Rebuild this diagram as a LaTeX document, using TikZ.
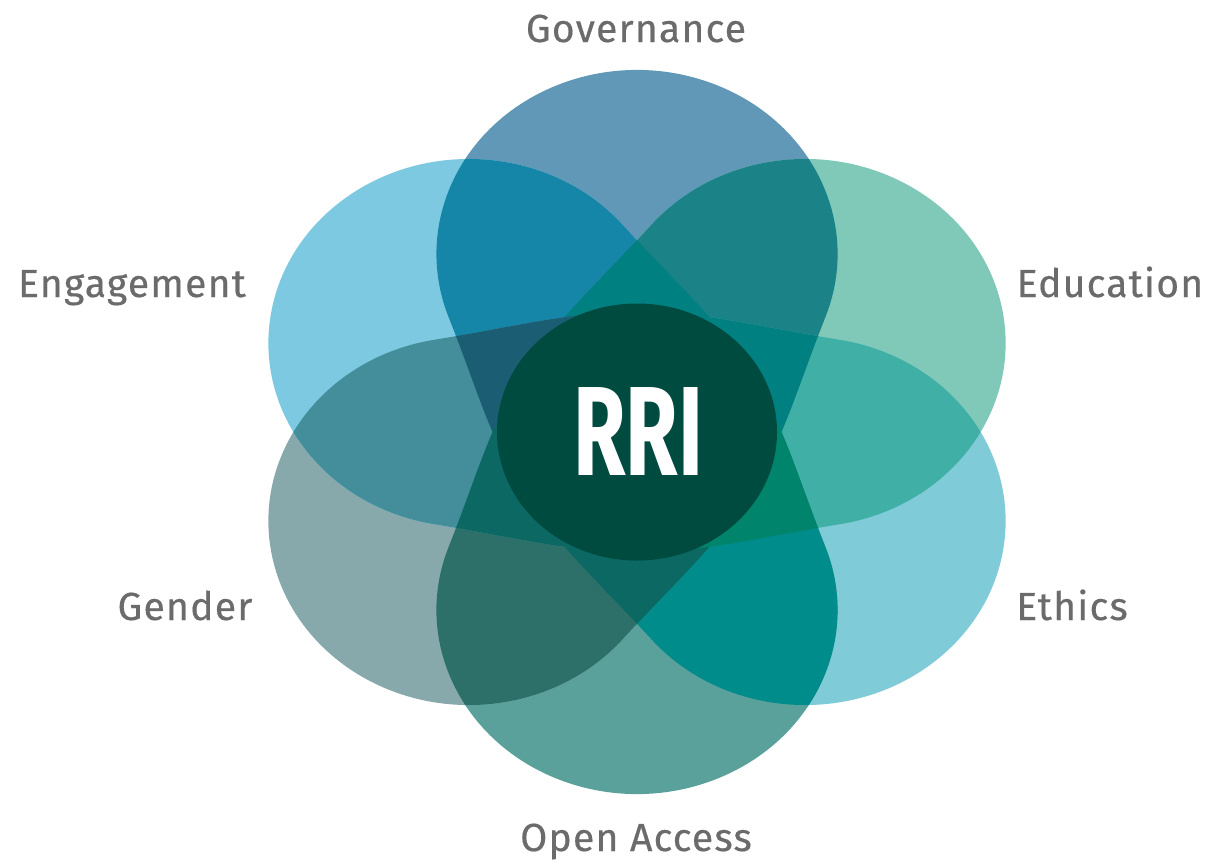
\documentclass[tikz,border=0pt]{standalone}
\usepackage{fontspec}
\setmainfont{Fira Sans}
\newfontfamily\lblfont[LetterSpace=3, FakeBold=0.4]{Fira Sans}
\definecolor{cGov}{HTML}{6198B8}
\definecolor{cEdu}{HTML}{80C9B9}
\definecolor{cEth}{HTML}{7FCBD8}
\definecolor{cOA}{HTML}{5BA19B}
\definecolor{cGen}{HTML}{88A9AC}
\definecolor{cEng}{HTML}{7DC9E1}
\definecolor{cGovEng}{HTML}{1585A8}
\definecolor{cGovEdu}{HTML}{1B8288}
\definecolor{cEduEth}{HTML}{40AFA5}
\definecolor{cEthOA}{HTML}{008C8A}
\definecolor{cOAGen}{HTML}{2D6F69}
\definecolor{cGenEng}{HTML}{438E9A}
\definecolor{cTopTri}{HTML}{008080}
\definecolor{cLeftTri}{HTML}{1B5E74}
\definecolor{cLowTri}{HTML}{0B6862}
\definecolor{cRightTri}{HTML}{00846C}
\definecolor{cRRI}{HTML}{004B40}
\definecolor{cLabel}{HTML}{6B6B6B}
\tikzset{
  petal/.style={shift={(637,-432)}, xscale=1.09, rotate=#1},
  lbl/.style={anchor=base, text=cLabel, inner sep=0pt, font=\lblfont\fontsize{22.3}{26}\selectfont}
}
\newcommand\petalpath{(0,-120) .. controls (120,-90) and (125,-16.5) .. (172.9,115.1) arc[start angle=-20, end angle=200, radius=184] .. controls (-125,-16.5) and (-120,-90) .. cycle}
\newcommand\petalpair[3]{\begin{scope}\clip[petal=#1]\petalpath;\fill[#3,petal=#2]\petalpath;\end{scope}}
\newcommand\petaltriple[4]{\begin{scope}\clip[petal=#1]\petalpath;\clip[petal=#2]\petalpath;\fill[#4,petal=#3]\petalpath;\end{scope}}
\begin{document}
\begin{tikzpicture}[x=0.02cm, y=0.02cm]
\useasboundingbox (0,0) rectangle (1209,-863);
\fill[white] (0,0) rectangle (1209,-863);
% base petals (Gov 0, Edu -60, Eth -120, OA 180, Gen 120, Eng 60)
\fill[cGov, petal=0]\petalpath;
\fill[cEdu, petal=-60]\petalpath;
\fill[cEth, petal=-120]\petalpath;
\fill[cOA, petal=180]\petalpath;
\fill[cGen, petal=120]\petalpath;
\fill[cEng, petal=60]\petalpath;
% adjacent overlaps
\petalpair{0}{60}{cGovEng}
\petalpair{0}{-60}{cGovEdu}
\petalpair{-60}{-120}{cEduEth}
\petalpair{-120}{180}{cEthOA}
\petalpair{180}{120}{cOAGen}
\petalpair{120}{60}{cGenEng}
% triple overlaps
\petaltriple{0}{60}{-60}{cTopTri}
\petaltriple{0}{-60}{-120}{cTopTri}
\petaltriple{0}{60}{120}{cLeftTri}
\petaltriple{180}{120}{60}{cLowTri}
\petaltriple{180}{120}{-120}{cLowTri}
\petaltriple{180}{-120}{-60}{cRightTri}
% centre
\fill[cRRI] (637,-432) ellipse[x radius=140, y radius=128.5];
\node[text=white, inner sep=0pt] (rri) at (638,-431) {\resizebox{2.6cm}{1.76cm}{\bfseries RRI}};
% labels
\node[lbl] (gov) at (636,-42) {Governance};
\node[lbl] (eng) at (132,-297) {Engagement};
\node[lbl] (edu) at (1110,-297) {Education};
\node[lbl] (gen) at (185,-620) {Gender};
\node[lbl] (eth) at (1072,-620) {Ethics};
\node[lbl] (oa) at (636,-851) {Open Access};
\end{tikzpicture}
\end{document}
